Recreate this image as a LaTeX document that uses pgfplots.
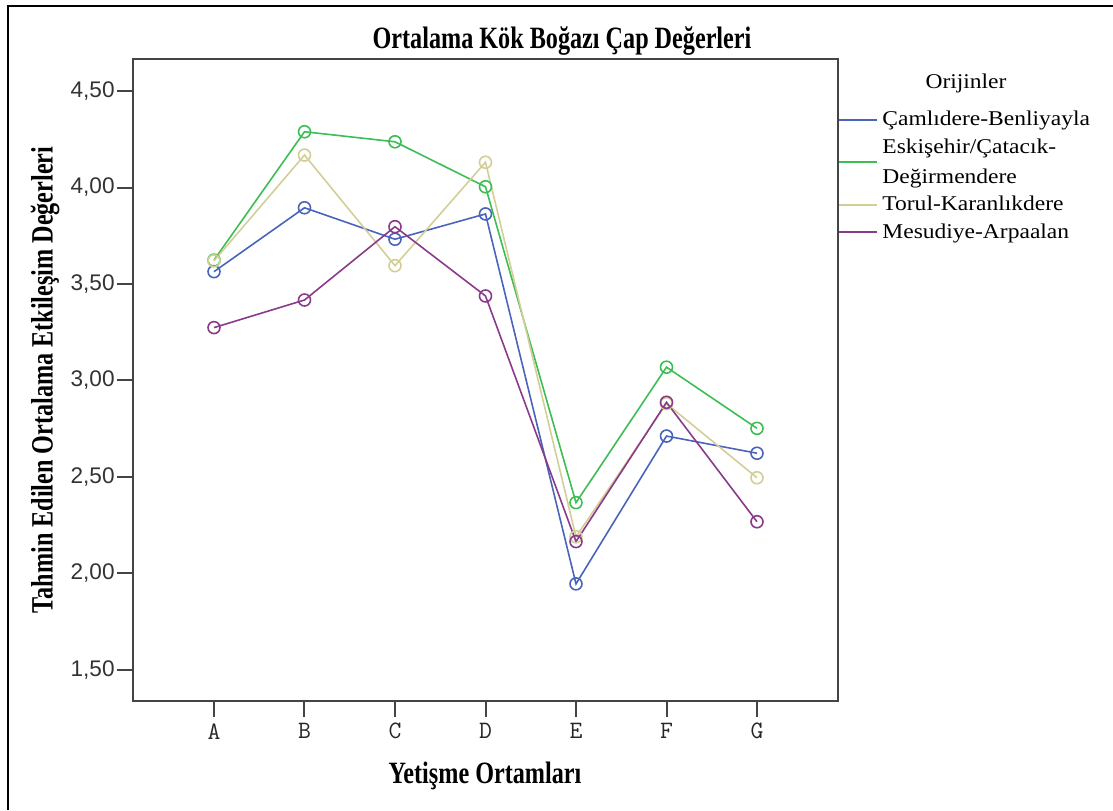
\documentclass[border=0pt]{standalone}
\usepackage{fontspec}
\usepackage{pgfplots}
\pgfplotsset{compat=1.18}
\setmainfont{Liberation Serif}
\newfontfamily\condfont[FakeStretch=0.78]{Liberation Serif}
\newfontfamily\legfont[FakeStretch=1.12]{Liberation Serif}
\newfontfamily\ticksans{Liberation Sans}
\definecolor{sblue}{HTML}{4A64BA}
\definecolor{sgreen}{HTML}{3CBE55}
\definecolor{sbeige}{HTML}{D3CE97}
\definecolor{spurple}{HTML}{8A3A8B}
\definecolor{frame}{HTML}{444444}
\begin{document}
\begin{tikzpicture}
\useasboundingbox (-66.5pt,-54.5pt) rectangle (490pt,350.5pt);
% outer border (left and top only)
\draw[line width=1pt] (-62.5pt,-54.5pt) -- (-62.5pt,347.5pt) -- (490pt,347.5pt);
\begin{axis}[
    at={(0pt,0pt)}, anchor=south west,
    width=352.5pt, height=321pt, scale only axis,
    xmin=-0.895, xmax=6.895,
    ymin=1.339, ymax=4.666,
    xtick={0,...,6},
    xticklabels={A,B,C,D,E,F,G},
    ytick={1.5,2,2.5,3,3.5,4,4.5},
    yticklabel={\pgfmathprintnumber[fixed,fixed zerofill,precision=2,use comma]{\tick}},
    /pgf/number format/assume math mode=true,
    yticklabel style={font=\ticksans\fontsize{11.3}{13}\selectfont, text=black!80, inner sep=1pt},
    xticklabel style={font=\ttfamily\fontsize{12.5}{14}\selectfont, text=black!85, inner sep=3pt},
    tick align=outside, major tick length=8pt,
    xtick pos=bottom, ytick pos=left,
    axis line style={frame, line width=1pt},
    tick style={frame, line width=1pt},
    every axis plot/.append style={line width=0.8pt, mark=o, mark size=3pt, mark options={solid, line width=0.8pt}},
    legend style={draw=none, fill=none, at={(1,0.926)}, anchor=north west,
        font=\legfont\fontsize{10.5}{15}\selectfont, row sep=1pt,
        cells={align=left, anchor=west}, inner xsep=0pt, inner ysep=0pt},
    legend image code/.code={\draw[#1, mark=none, line width=1pt] (0pt,0pt) -- (19pt,0pt);},
]
\addplot[sblue] coordinates {(0,3.564) (1,3.895) (2,3.732) (3,3.863) (4,1.946) (5,2.712) (6,2.623)};
\addlegendentry{Çamlıdere-Benliyayla}
\addplot[sgreen] coordinates {(0,3.624) (1,4.289) (2,4.237) (3,4.004) (4,2.367) (5,3.069) (6,2.752)};
\addlegendentry{Eskişehir/Çatacık-\\Değirmendere}
\addplot[sbeige] coordinates {(0,3.620) (1,4.168) (2,3.595) (3,4.131) (4,2.190) (5,2.880) (6,2.496)};
\addlegendentry{Torul-Karanlıkdere}
\addplot[spurple] coordinates {(0,3.274) (1,3.417) (2,3.797) (3,3.438) (4,2.165) (5,2.887) (6,2.268)};
\addlegendentry{Mesudiye-Arpaalan}
\end{axis}
% titles and labels
\node[font=\condfont\bfseries\fontsize{15.5}{19}\selectfont] at (214.5pt,330pt) {Ortalama Kök Boğazı Çap Değerleri};
\node[font=\condfont\bfseries\fontsize{15.5}{19}\selectfont, rotate=90] at (-44pt,160.5pt) {Tahmin Edilen Ortalama Etkileşim Değerleri};
\node[font=\condfont\bfseries\fontsize{15.5}{19}\selectfont] at (176pt,-37.5pt) {Yetişme Ortamları};
\node[font=\legfont\fontsize{10.5}{15}\selectfont] at (416.5pt,309pt) {Orijinler};
\end{tikzpicture}
\end{document}
